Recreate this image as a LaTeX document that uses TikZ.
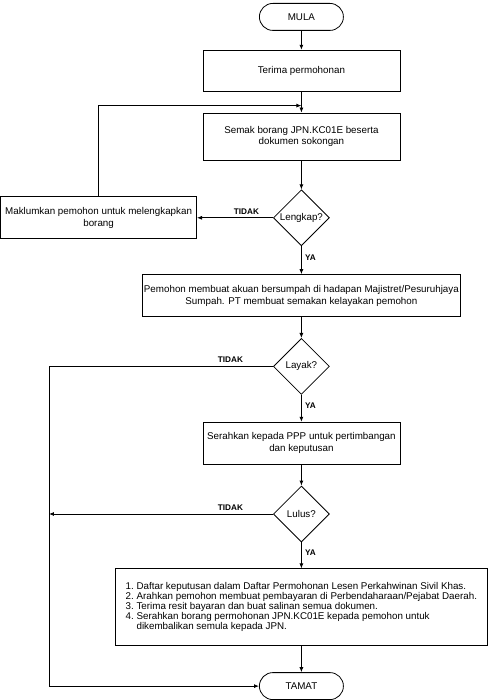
\documentclass[tikz,border=0pt]{standalone}
\usepackage{fontspec}
\setmainfont{Liberation Sans}
\usetikzlibrary{arrows.meta,positioning,shapes}

\begin{document}
\begin{tikzpicture}[
    node distance=21pt and 76pt,
    line width=0.8pt,
    font=\fontsize{9.8}{11.8}\selectfont,
    terminal/.style={rectangle, draw, rounded corners=13.5pt, minimum width=84pt, minimum height=27pt, inner sep=0pt},
    box/.style={rectangle, draw, align=center, minimum width=197pt, minimum height=42pt, inner sep=1pt},
    decision/.style={diamond, draw, minimum width=56pt, minimum height=56pt, inner sep=0pt},
    lbl/.style={font=\fontsize{8.2}{9}\selectfont\bfseries},
    arrow/.style={-{Latex[length=5pt,width=4pt]}}
  ]

    \node[terminal] (mula) {MULA};
    \useasboundingbox ([xshift=-259pt,yshift=3pt]mula.north west) rectangle ++(487pt,-700pt);

    \node[box, below=19pt of mula, minimum height=41pt] (terima) {Terima permohonan};
    \node[box, below=21pt of terima, minimum height=47pt] (semak) {Semak borang JPN.KC01E beserta\\dokumen sokongan};
    \node[decision, below=29pt of semak] (lengkap) {Lengkap?};
    \node[box, left=76pt of lengkap, minimum width=196pt] (maklum) {Maklumkan pemohon untuk melengkapkan\\borang};

    \node[box, below=28pt of lengkap, minimum width=318pt] (pemohon) {Pemohon membuat akuan bersumpah di hadapan Majistret/Pesuruhjaya\\Sumpah. PT membuat semakan kelayakan pemohon};
    \node[decision, below=21pt of pemohon] (layak) {Layak?};
    \node[box, below=27pt of layak] (serah) {Serahkan kepada PPP untuk pertimbangan\\dan keputusan};
    \node[decision, below=21pt of serah] (lulus) {Lulus?};

    \node[box, below=26pt of lulus, minimum width=372pt, minimum height=77pt, align=left] (senarai) {\fontsize{9.8}{10}\selectfont
      \begin{tabular}{@{}r@{\ }l@{}}
        1. & Daftar keputusan dalam Daftar Permohonan Lesen Perkahwinan Sivil Khas.\\
        2. & Arahkan pemohon membuat pembayaran di Perbendaharaan/Pejabat Daerah.\\
        3. & Terima resit bayaran dan buat salinan semua dokumen.\\
        4. & Serahkan borang permohonan JPN.KC01E kepada pemohon untuk\\
           & dikembalikan semula kepada JPN.
      \end{tabular}};
    \node[terminal, below=26pt of senarai] (tamat) {TAMAT};

    % helper points for the loops
    \coordinate[below=14pt of terima.south] (balik);
    \coordinate[left=224pt of layak.west] (kiri);

    \draw[arrow] (mula) -- (terima);
    \draw[arrow] (terima) -- (semak);
    \draw[arrow] (semak) -- (lengkap);

    \draw[arrow] (lengkap) -- node[lbl, above, pos=0.35]{TIDAK} (maklum);
    \draw[arrow] (maklum.north) |- (balik);
    \draw[arrow] (lengkap) -- node[lbl, right, pos=0.4]{YA} (pemohon);

    \draw[arrow] (pemohon) -- (layak);
    \draw[arrow] (layak.west) -- node[lbl, above, pos=0.19]{TIDAK} (kiri) |- (tamat.west);
    \draw[arrow] (layak) -- node[lbl, right, pos=0.4]{YA} (serah);

    \draw[arrow] (serah) -- (lulus);
    \draw[arrow] (lulus.west) -- node[lbl, above, pos=0.19]{TIDAK} (lulus.west -| kiri);
    \draw[arrow] (lulus) -- node[lbl, right, pos=0.4]{YA} (senarai);

    \draw[arrow] (senarai) -- (tamat);

  \end{tikzpicture}
\end{document}
